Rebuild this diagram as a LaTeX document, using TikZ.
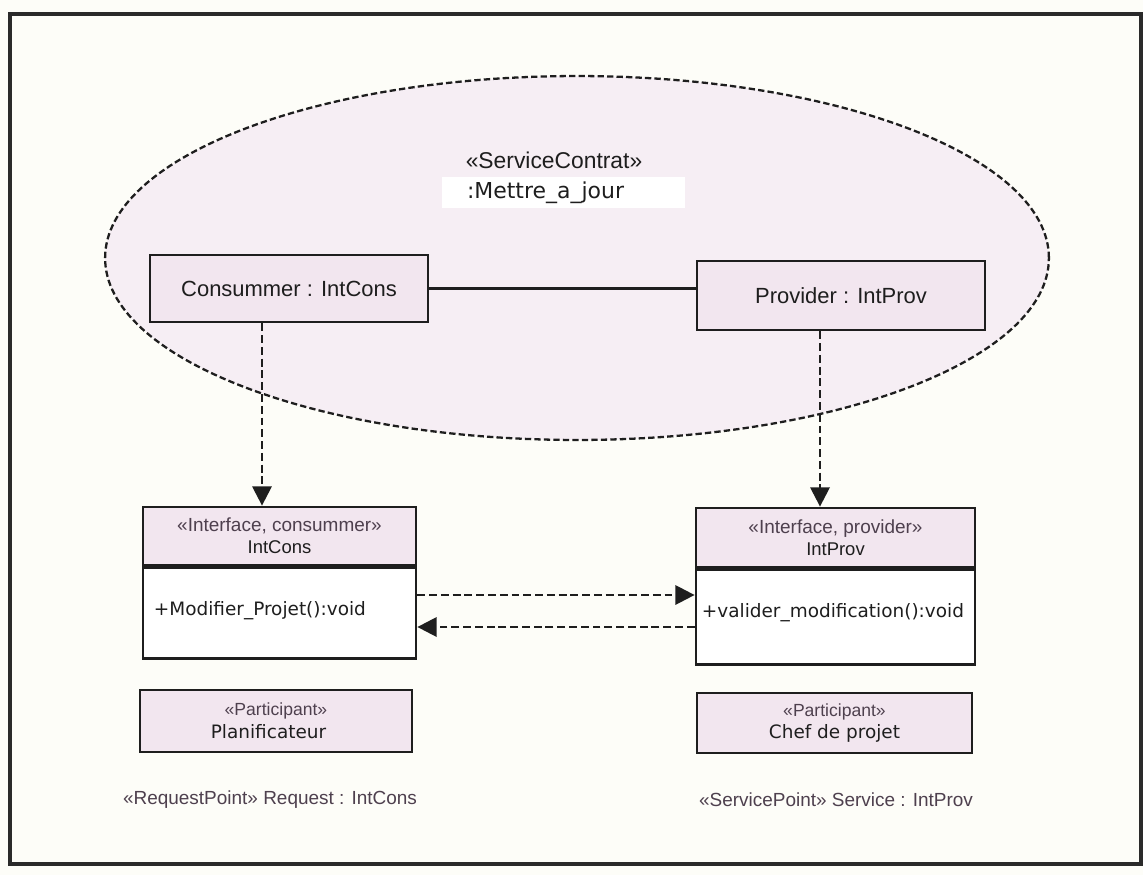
\documentclass[tikz,border=0pt]{standalone}
\usepackage{fontspec}
\setmainfont{Liberation Sans}
\newfontfamily\tahfont{DejaVu Sans}
\usetikzlibrary{shapes.geometric,arrows.meta}
\definecolor{bgcream}{HTML}{FDFDF8}
\definecolor{lilac}{HTML}{F2E6EF}
\definecolor{lilacpale}{HTML}{F6EEF4}
\definecolor{ink}{HTML}{1E1E1E}
\definecolor{stereo}{HTML}{4E404E}
\definecolor{framegray}{HTML}{2A2A2A}
\begin{document}
\begin{tikzpicture}[x=0.02cm,y=-0.02cm,
  boxline/.style={draw=ink, line width=1.6pt},
  objbox/.style={boxline, fill=lilac, inner sep=0pt, text=ink,
    font=\fontsize{12.5}{14}\selectfont},
  hdrbox/.style={boxline, fill=lilac, inner sep=0pt, align=center, text=ink,
    font=\fontsize{10.5}{12.5}\selectfont},
  bodybox/.style={boxline, fill=white, inner sep=0pt},
  optext/.style={anchor=west, inner sep=0pt, text=ink,
    font=\tahfont\fontsize{10.5}{12}\selectfont},
  partbox/.style={boxline, fill=lilac, inner sep=0pt, align=center, text=ink,
    font=\tahfont\fontsize{10.5}{13}\selectfont},
  stereotxt/.style={inner sep=0pt, text=stereo, font=\fontsize{10.8}{12}\selectfont},
  depend/.style={draw=ink, line width=1.4pt, dash pattern=on 4.5pt off 2.2pt,
    -{Triangle[length=11pt,width=11pt]}},
]
\useasboundingbox (0,0) rectangle (1143,875);
\fill[bgcream] (0,0) rectangle (1143,875);
\draw[framegray, line width=1.8pt] (10,14) rectangle (1141,864);

% service contract collaboration
\node[draw=ink, fill=lilacpale, ellipse, line width=1.3pt,
      dash pattern=on 3.6pt off 1.8pt, minimum width=18.88cm,
      minimum height=7.28cm, inner sep=0pt] (contract) at (577,258) {};
\node[inner sep=0pt, text=ink, font=\fontsize{13}{15}\selectfont]
      (ctitle) at (554,160) {«ServiceContrat»};
\node[fill=white, inner xsep=0.1cm, inner ysep=0pt, text width=4.66cm,
      minimum height=0.62cm, align=left, text=ink,
      font=\tahfont\fontsize{12.5}{14}\selectfont]
      (cname) at (563.5,192.5) {\hspace*{0.4cm}:Mettre\_a\_jour};

% roles
\node[objbox, minimum width=5.56cm, minimum height=1.34cm] (cons) at (289,288.5)
      {Consummer : IntCons};
\node[objbox, minimum width=5.76cm, minimum height=1.38cm] (prov) at (841,295.5)
      {Provider : IntProv};
\draw[draw=ink, line width=1.3pt] (cons.east) -- (cons.east -| prov.west);

% interfaces
\node[hdrbox, minimum width=5.46cm, minimum height=1.16cm] (ich) at (279.5,536)
      {{\color{stereo}\fontsize{10.8}{12.5}\selectfont «Interface, consummer»}\\IntCons};
\node[bodybox, minimum width=5.46cm, minimum height=1.82cm, anchor=north]
      (icb) at (ich.south) {};
\node[optext] (icop) at ([xshift=0.24cm,yshift=0.06cm]icb.west)
      {+Modifier\_Projet():void};

\node[hdrbox, minimum width=5.58cm, minimum height=1.18cm] (iph) at (835.5,537.5)
      {{\color{stereo}\fontsize{10.8}{12.5}\selectfont «Interface, provider»}\\IntProv};
\node[bodybox, minimum width=5.58cm, minimum height=1.9cm, anchor=north]
      (ipb) at (iph.south) {};
\node[optext] (ipop) at ([xshift=0.14cm,yshift=0.1cm]ipb.west)
      {+valider\_modification():void};

% dependencies
\coordinate (cx) at (262,0);
\coordinate (px) at (820,0);
\coordinate (ry1) at (0,595);
\coordinate (ry2) at (0,627);
\draw[depend] (cons.south -| cx) -- (ich.north -| cx);
\draw[depend] (prov.south -| px) -- (iph.north -| px);
\draw[depend] (icb.east |- ry1) -- (ipb.west |- ry1);
\draw[depend] (ipb.west |- ry2) -- (icb.east |- ry2);

% participants
\node[partbox, minimum width=5.44cm, minimum height=1.24cm] (plan) at (276,721)
      {{\rmfamily\color{stereo}\fontsize{10}{13}\selectfont «Participant»}\\Planificateur\hspace*{0.3cm}};
\node[partbox, minimum width=5.5cm, minimum height=1.2cm] (chef) at (834.5,723)
      {{\rmfamily\color{stereo}\fontsize{10}{13}\selectfont «Participant»}\\Chef de projet};

% ports
\node[stereotxt] (reqpt) at (270,800) {«RequestPoint» Request : IntCons};
\node[stereotxt] (srvpt) at (836,800) {«ServicePoint» Service : IntProv};
\end{tikzpicture}
\end{document}
